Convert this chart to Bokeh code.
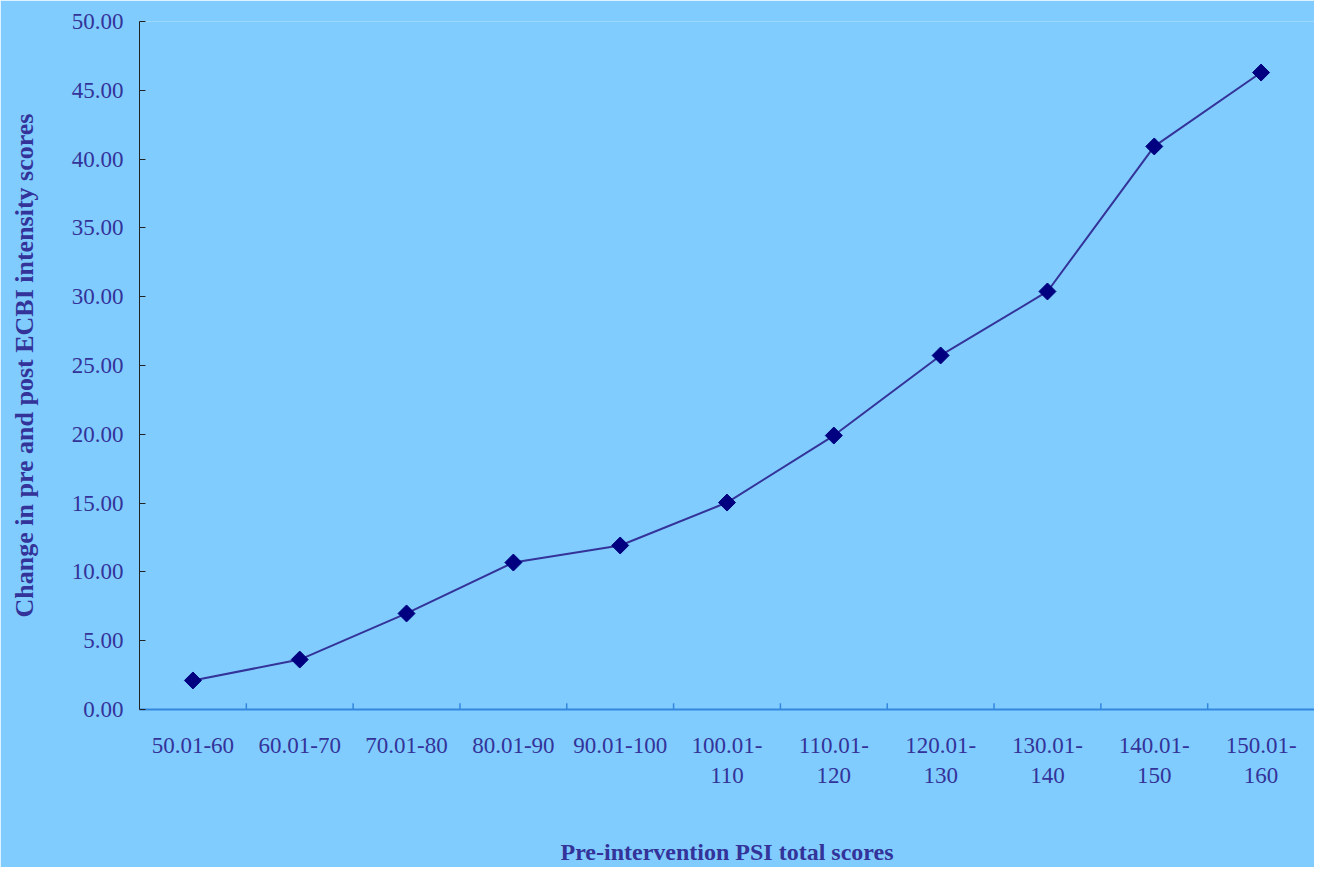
from bokeh.plotting import figure
from bokeh.models import Range1d, FactorRange, ColumnDataSource
from bokeh.transform import dodge
from bokeh.embed import file_html
from bokeh.resources import INLINE

categories = ["50.01-60", "60.01-70", "70.01-80", "80.01-90", "90.01-100",
              "100.01-\n110", "110.01-\n120", "120.01-\n130", "130.01-\n140",
              "140.01-\n150", "150.01-\n160"]
values = [2.11, 3.63, 6.98, 10.68, 11.92, 15.04, 19.91, 25.73, 30.38, 40.92, 46.29]
y_ticks = [0, 5, 10, 15, 20, 25, 30, 35, 40, 45, 50]

BG = "#80CCFF"
TXT = "#333399"
FONT = "Liberation Serif"

p = figure(width=1314, height=867, x_range=FactorRange(*categories, range_padding=0),
           y_range=Range1d(0, 50), output_backend="svg", toolbar_location=None,
           background_fill_color=BG, border_fill_color=BG,
           min_border_left=139, min_border_top=21, min_border_bottom=10, min_border_right=0)
p.outline_line_color = None
p.xgrid.visible = False
p.ygrid.visible = False

# tick marks at the category boundaries (as in the reference)
tick_src = ColumnDataSource(dict(cat=categories[:-1], y0=[0] * (len(categories) - 1),
                                 y1=[0.45] * (len(categories) - 1)))
p.segment(x0=dodge("cat", 0.5, range=p.x_range), y0="y0",
          x1=dodge("cat", 0.5, range=p.x_range), y1="y1",
          source=tick_src, line_color="#3388DD", line_width=1.5)

p.line(categories, values, line_color="#333399", line_width=2)
p.scatter(categories, values, marker="square", angle=0.785398, size=12,
          fill_color="#000080", line_color="#000080")

p.yaxis.ticker = y_ticks
p.yaxis.major_label_overrides = {t: f"{t:.2f}" for t in y_ticks}
p.yaxis.axis_line_color = "#222222"
p.yaxis.major_tick_line_color = "#222222"
p.yaxis.major_tick_in = 6
p.yaxis.major_tick_out = 0
p.yaxis.minor_tick_line_color = None
p.yaxis.major_label_standoff = 16
p.yaxis.axis_label = "Change in pre and post ECBI intensity scores"
p.yaxis.axis_label_standoff = 30

p.xaxis.axis_line_color = "#3388DD"
p.xaxis.axis_line_width = 2
p.xaxis.major_tick_line_color = None
p.xaxis.major_tick_in = 0
p.xaxis.major_tick_out = 0
p.xaxis.major_label_standoff = 23
p.xaxis.axis_label = "Pre-intervention PSI total scores"
p.xaxis.axis_label_standoff = 48

for ax in (p.xaxis[0], p.yaxis[0]):
    ax.major_label_text_font = FONT
    ax.major_label_text_font_size = "23px"
    ax.major_label_text_color = TXT
    ax.axis_label_text_font = FONT
    ax.axis_label_text_font_style = "bold"
    ax.axis_label_text_color = TXT
p.xaxis.axis_label_text_font_size = "24px"
p.yaxis.axis_label_text_font_size = "26px"

open("out.html", "w").write(file_html(p, INLINE))
